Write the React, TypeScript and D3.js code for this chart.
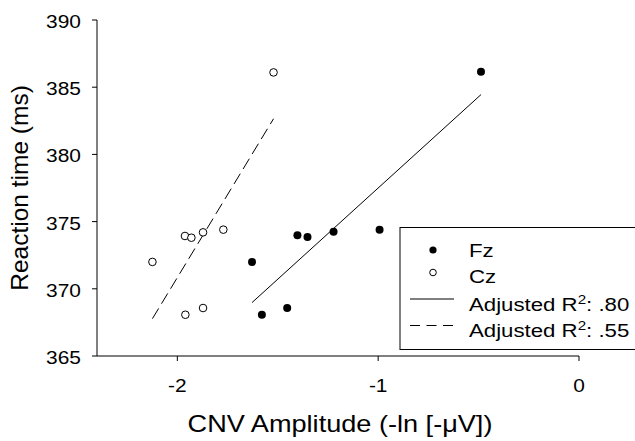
import React from "react";
import * as d3 from "d3";

// CNV amplitude (x) and reaction time (y) per site
const fzX = [-1.628, -1.579, -1.453, -1.402, -1.352, -1.222, -0.993, -0.488];
const fzY = [372.0, 368.07, 368.57, 373.98, 373.85, 374.25, 374.4, 386.15];
const czX = [-2.124, -1.962, -1.93, -1.872, -1.771, -1.96, -1.872, -1.521];
const czY = [372.0, 373.93, 373.8, 374.2, 374.4, 368.07, 368.57, 386.1];

const xTicks = [-2, -1, 0];
const yTicks = [365, 370, 375, 380, 385, 390];
const legendLabels = ["Fz", "Cz", "Adjusted R", "Adjusted R"];
const r2Values = [".80", ".55"];

const FONT = "'Liberation Sans', Arial, sans-serif";
// the scanned figure's lettering is a bit wider than Arial
const SX = 1.1;

// least-squares fit drawn across the range of x values
function fitLine(xs: number[], ys: number[]) {
  const mx = d3.mean(xs) as number;
  const my = d3.mean(ys) as number;
  let sxy = 0;
  let sxx = 0;
  xs.forEach((x, i) => {
    sxy += (x - mx) * (ys[i] - my);
    sxx += (x - mx) * (x - mx);
  });
  const slope = sxy / sxx;
  const [x0, x1] = d3.extent(xs) as [number, number];
  return [
    [x0, my + slope * (x0 - mx)],
    [x1, my + slope * (x1 - mx)],
  ] as [number, number][];
}

const App = () => {
  const width = 635,
    height = 441;
  const margin = { top: 20, left: 97, right: 56, bottom: 85 };

  const xScale = d3.scaleLinear().domain([-2.4, 0]).range([margin.left, width - margin.right]);
  const yScale = d3.scaleLinear().domain([365, 390]).range([height - margin.bottom, margin.top]);

  const line = d3
    .line<[number, number]>()
    .x((d) => xScale(d[0]))
    .y((d) => yScale(d[1]));

  const fzFit = fitLine(fzX, fzY);
  const czFit = fitLine(czX, czY);

  const x0 = margin.left;
  const y0 = height - margin.bottom;

  const legX = 400,
    legY = 227.5;
  const symY = [250, 272.5, 299, 325.5];
  const textY = [256.7, 283.2, 311, 337];

  return (
    <svg
      width={width}
      height={height}
      style={{ position: "absolute", left: 0, top: 0, background: "#fff" }}
      fontFamily={FONT}
    >
      {/* axes */}
      <line x1={x0} x2={x0} y1={yScale(390)} y2={y0} stroke="#000" strokeWidth={1} />
      <line x1={x0} x2={xScale(0)} y1={y0} y2={y0} stroke="#000" strokeWidth={1} />
      {yTicks.map((t) => (
        <g key={`y${t}`}>
          <line x1={x0 - 5} x2={x0} y1={yScale(t)} y2={yScale(t)} stroke="#000" />
          <text
            transform={`translate(${x0 - 16},${yScale(t)}) scale(${SX},1)`}
            dy="0.42em"
            textAnchor="end"
            fontSize={19}
          >
            {t}
          </text>
        </g>
      ))}
      {xTicks.map((t) => (
        <g key={`x${t}`}>
          <line x1={xScale(t)} x2={xScale(t)} y1={y0} y2={y0 + 5} stroke="#000" />
          <text transform={`translate(${xScale(t)},392) scale(${SX},1)`} textAnchor="middle" fontSize={19}>
            {t}
          </text>
        </g>
      ))}

      {/* axis titles */}
      <text transform={`translate(340,432) scale(1.13,1)`} textAnchor="middle" fontSize={24}>
        CNV Amplitude (-ln [-μV])
      </text>
      <text transform={`translate(28,188) rotate(-90)`} textAnchor="middle" fontSize={24.5}>
        Reaction time (ms)
      </text>

      {/* regression lines */}
      <path d={line(fzFit) || ""} fill="none" stroke="#000" strokeWidth={1} />
      <path d={line(czFit) || ""} fill="none" stroke="#000" strokeWidth={1} strokeDasharray="12,5.5" />

      {/* points */}
      {czX.map((x, i) => (
        <circle key={`cz${i}`} cx={xScale(x)} cy={yScale(czY[i])} r={3.8} fill="#fff" stroke="#000" strokeWidth={1} />
      ))}
      {fzX.map((x, i) => (
        <circle key={`fz${i}`} cx={xScale(x)} cy={yScale(fzY[i])} r={4} fill="#000" />
      ))}

      {/* legend */}
      <rect x={legX} y={legY} width={width - legX + 5} height={122} fill="#fff" stroke="#000" strokeWidth={1} />
      <circle cx={433} cy={symY[0]} r={3.6} fill="#000" />
      <circle cx={433} cy={symY[1]} r={3.3} fill="#fff" stroke="#000" />
      <line x1={410} x2={454} y1={symY[2]} y2={symY[2]} stroke="#000" />
      <line x1={410} x2={454} y1={symY[3]} y2={symY[3]} stroke="#000" strokeDasharray="10,6.5" />
      {legendLabels.map((lab, i) => (
        <text key={`lg${i}`} transform={`translate(469,${textY[i]}) scale(1.17,1)`} fontSize={19}>
          {lab}
          {i >= 2 && (
            <>
              <tspan dy="-7" fontSize={13}>2</tspan>
              <tspan dy="7">: {r2Values[i - 2]}</tspan>
            </>
          )}
        </text>
      ))}
    </svg>
  );
};

export default App;
